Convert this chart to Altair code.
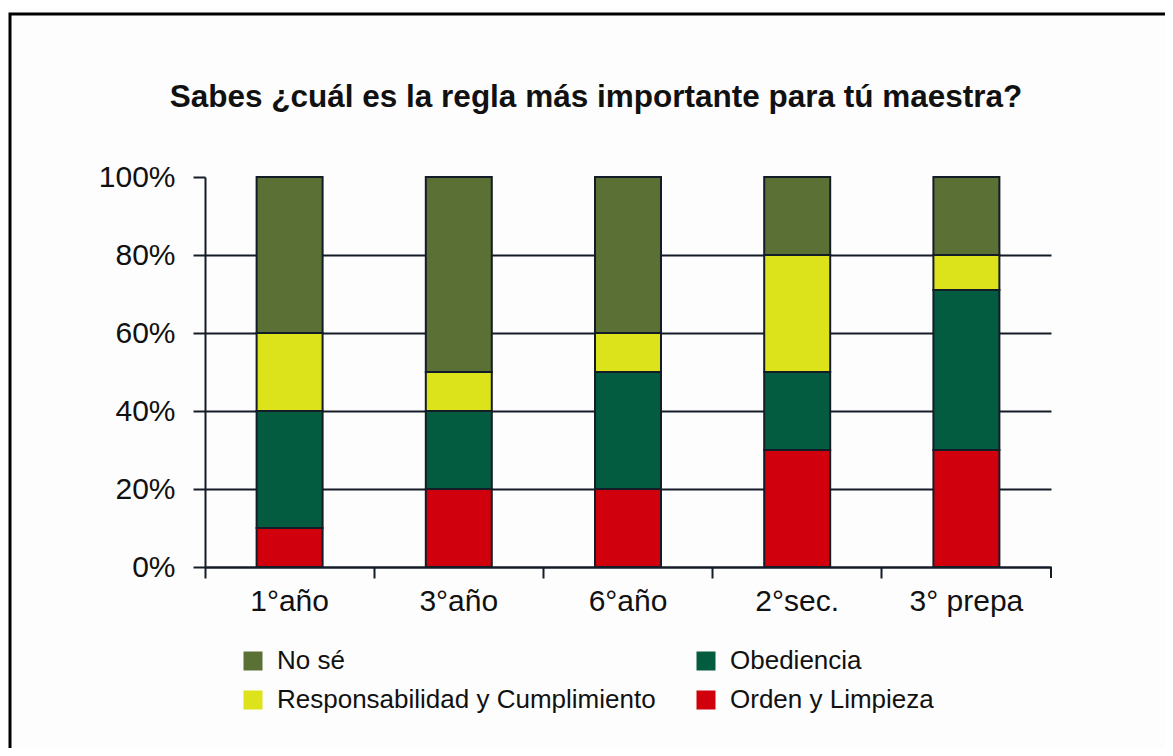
import altair as alt
import pandas as pd

grados = ["1°año", "3°año", "6°año", "2°sec.", "3° prepa"]
series = ["No sé", "Obediencia", "Responsabilidad y Cumplimiento", "Orden y Limpieza"]
colores = ["#5b7034", "#045c40", "#dde31a", "#d0000c"]

no_se = [40, 50, 40, 20, 20]
obediencia = [30, 20, 30, 20, 41]
responsabilidad = [20, 10, 10, 30, 9]
orden_limpieza = [10, 20, 20, 30, 30]

valores = {
    "No sé": no_se,
    "Obediencia": obediencia,
    "Responsabilidad y Cumplimiento": responsabilidad,
    "Orden y Limpieza": orden_limpieza,
}
apilado = {"Orden y Limpieza": 0, "Obediencia": 1,
           "Responsabilidad y Cumplimiento": 2, "No sé": 3}

rows = []
for s in series:
    for g, v in zip(grados, valores[s]):
        rows.append({"grado": g, "serie": s, "valor": v / 100.0, "orden": apilado[s]})
df = pd.DataFrame(rows)

W, H = 846, 390
FONT = "Liberation Sans"
LINE = "#141c28"
TEXT = "#111111"

x_enc = alt.X(
    "grado:N", sort=grados, title=None,
    scale=alt.Scale(paddingInner=0, paddingOuter=0),
    axis=alt.Axis(labelAngle=0, labelFontSize=30, labelColor=TEXT, labelPadding=8,
                  tickSize=11, tickWidth=2, tickColor=LINE, domainColor=LINE,
                  domainWidth=2, bandPosition=0, grid=False, labelFont=FONT),
)

y_enc = alt.Y(
    "valor:Q", stack="zero", title=None,
    scale=alt.Scale(domain=[0, 1]),
    axis=alt.Axis(values=[0, 0.2, 0.4, 0.6, 0.8, 1], format=".0%",
                  labelFontSize=30, labelColor=TEXT, labelPadding=18, labelFont=FONT,
                  tickSize=12, tickWidth=2, tickColor=LINE,
                  domainColor=LINE, domainWidth=2,
                  grid=True, gridColor=LINE, gridWidth=2,
                  gridOpacity={"condition": {"test": "datum.value >= 1", "value": 0}, "value": 1}),
)

bars = alt.Chart(df).mark_bar(
    width=alt.RelativeBandSize(0.39), stroke=LINE, strokeWidth=2
).encode(
    x=x_enc,
    y=y_enc,
    color=alt.Color(
        "serie:N",
        scale=alt.Scale(domain=series, range=colores),
        legend=alt.Legend(title=None, orient="none", legendX=35, legendY=471,
                          direction="horizontal",
                          columns=2, columnPadding=37, rowPadding=13, padding=0,
                          symbolType="square", symbolSize=361, symbolStrokeWidth=0,
                          labelFontSize=26, labelFont=FONT, labelColor=TEXT,
                          labelOffset=11, labelLimit=600),
    ),
    order=alt.Order("orden:Q"),
)

tick_end = alt.Chart(df).transform_filter(
    alt.datum.grado == grados[-1]
).mark_rule(color=LINE, strokeWidth=2).encode(
    x=alt.X("grado:N", sort=grados, bandPosition=1),
    y=alt.value(H),
    y2=alt.value(H + 11),
)

frame = alt.Chart(pd.DataFrame({"k": [0]})).mark_rect(
    fillOpacity=0, stroke="#000000", strokeWidth=3
).encode(
    x=alt.value(-195), x2=alt.value(1300),
    y=alt.value(-163), y2=alt.value(900),
)

chart = alt.layer(frame, bars, tick_end).properties(
    width=W, height=H,
    title=alt.Title("Sabes ¿cuál es la regla más importante para tú maestra?",
                    fontSize=31.5, fontWeight="bold", font=FONT, color=TEXT,
                    anchor="middle", frame="group", offset=-101, dx=-32),
    autosize=alt.AutoSizeParams(type="none"),
    padding={"left": 197, "top": 169, "right": 114, "bottom": 181},
    background="#fdfdfd",
).configure_view(stroke=None)

chart.save("out.html", embed_options={"renderer": "svg", "actions": False})
